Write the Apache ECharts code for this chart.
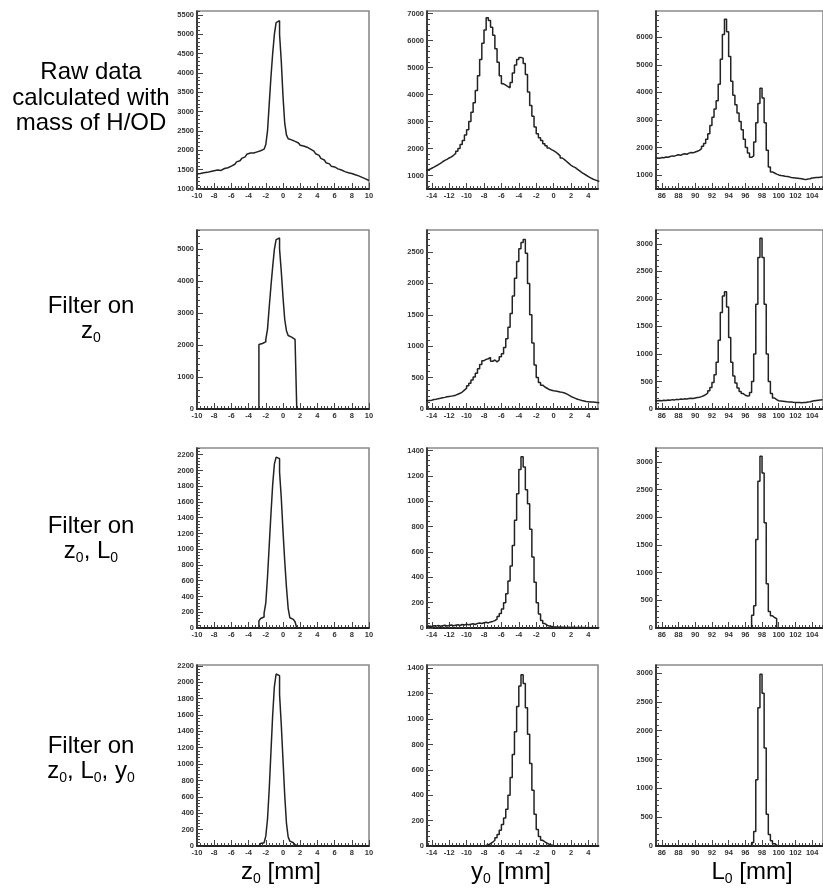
<!DOCTYPE html>
<html><head><meta charset="utf-8">
<script src="https://cdn.jsdelivr.net/npm/echarts@6/dist/echarts.min.js"></script>
<style>html,body{margin:0;padding:0;background:#fff}#c{width:823px;height:891px}</style>
</head><body><div id="c"></div>
<script>
// ---------- binning (histogram bin edges start + width) ----------
const Z_BINS = {start: -10, width: 0.2};
const Y_BINS = {start: -14.75, width: 0.25};
const L_BINS = {start: 85.25, width: 0.25};

// ---------- tick labels ----------
const zTickLabels = [-10,-8,-6,-4,-2,0,2,4,6,8,10];
const yTickLabels = [-14,-12,-10,-8,-6,-4,-2,0,2,4];
const lTickLabels = [86,88,90,92,94,96,98,100,102,104];
const cnt_z_raw = [1000,1500,2000,2500,3000,3500,4000,4500,5000,5500];
const cnt_y_raw = [1000,2000,3000,4000,5000,6000,7000];
const cnt_l_raw = [1000,2000,3000,4000,5000,6000];
const cnt_z_f1 = [0,1000,2000,3000,4000,5000];
const cnt_y_f1 = [0,500,1000,1500,2000,2500];
const cnt_l_f1 = [0,500,1000,1500,2000,2500,3000];
const cnt_z_f2 = [0,200,400,600,800,1000,1200,1400,1600,1800,2000,2200];
const cnt_y_f2 = [0,200,400,600,800,1000,1200,1400];
const cnt_l_f2 = [0,500,1000,1500,2000,2500,3000];
const cnt_z_f3 = [0,200,400,600,800,1000,1200,1400,1600,1800,2000,2200];
const cnt_y_f3 = [0,200,400,600,800,1000,1200,1400];
const cnt_l_f3 = [0,500,1000,1500,2000,2500,3000];

// ---------- histogram contents ----------
const z0Raw = [1390,1400,1380,1420,1410,1430,1420,1450,1440,1470,
 1460,1490,1500,1480,1510,1530,1520,1550,1570,1590,
 1620,1640,1670,1700,1730,1760,1790,1830,1860,1900,
 1930,1950,1930,1970,1960,1980,1990,2010,2030,2060,
 2150,2500,3200,3900,4500,5000,5300,5350,5000,4300,
 3400,2700,2400,2300,2270,2240,2230,2200,2190,2150,
 2130,2110,2090,2080,2050,2030,2010,1980,1950,1910,
 1870,1830,1790,1750,1710,1680,1650,1620,1590,1570,
 1540,1520,1500,1490,1470,1450,1440,1420,1410,1400,
 1390,1370,1360,1340,1320,1300,1280,1260,1240,1220];
const z0FiltZ = [0,0,0,0,0,0,0,0,0,0, 0,0,0,0,0,0,0,0,0,0, 0,0,0,0,0,0,0,0,0,0, 0,0,0,0,0,0,
 2020,2050,2060,2100,2180,2500,3200,3850,4450,5000,5300,5350,5000,4300,3500,2800,2450,2300,2250,2200,2180,2150,
 0,0,0,0,0,0,0,0,0,0, 0,0,0,0,0,0,0,0,0,0, 0,0,0,0,0,0,0,0,0,0, 0,0,0,0,0,0,0,0,0,0, 0,0];
const z0FiltZL = [0,0,0,0,0,0,0,0,0,0, 0,0,0,0,0,0,0,0,0,0, 0,0,0,0,0,0,0,0,0,0, 0,0,0,0,0,0,
 90,120,140,190,320,650,1050,1450,1820,2080,2170,2150,1980,1650,1230,850,520,250,130,110,100,80,
 0,0,0,0,0,0,0,0,0,0, 0,0,0,0,0,0,0,0,0,0, 0,0,0,0,0,0,0,0,0,0, 0,0,0,0,0,0,0,0,0,0, 0,0];
const z0FiltZLY = [0,0,0,0,0,0,0,0,0,0, 0,0,0,0,0,0,0,0,0,0, 0,0,0,0,0,0,0,0,0,0, 0,0,0,0,0,0,
 20,30,40,60,120,330,700,1150,1600,1950,2100,2080,1850,1480,1050,620,280,110,60,40,25,15,
 0,0,0,0,0,0,0,0,0,0, 0,0,0,0,0,0,0,0,0,0, 0,0,0,0,0,0,0,0,0,0, 0,0,0,0,0,0,0,0,0,0, 0,0];

const y0Raw = [1200,1230,1270,1310,1360,1400,1450,1510,1560,1600,
 1650,1690,1750,1820,1900,2000,2150,2300,2500,2700,
 3000,3350,3700,4150,4700,5300,5900,6400,6850,6750,
 6500,6200,5700,5200,4700,4400,4350,4300,4250,4450,
 4800,5100,5300,5380,5350,5150,4750,4100,3600,3200,
 2800,2550,2400,2300,2180,2100,2020,1960,1920,1870,
 1800,1730,1650,1590,1520,1450,1380,1330,1290,1230,
 1170,1110,1060,1010,960,910,870,840,810,780];
const y0FiltZ = [130,135,140,150,155,165,170,180,185,195,
 200,205,210,220,235,250,270,300,330,370,
 410,460,510,570,640,710,770,790,800,820,
 760,780,750,780,830,880,980,1120,1300,1520,
 1800,2080,2350,2550,2650,2700,2480,2000,1500,1050,
 700,500,420,380,350,330,310,300,290,285,
 280,270,265,255,240,220,200,185,170,155,
 145,135,128,120,116,112,110,108,105,100];
const y0FiltZL = [10,15,12,18,15,20,14,18,22,16,
 20,24,18,22,26,20,28,24,30,26,
 30,34,28,36,40,36,42,46,40,48,
 52,58,70,90,115,150,200,270,370,490,
 650,850,1060,1250,1350,1270,1090,980,780,560,
 360,200,110,60,35,22,15,12,9,8,
 6,7,5,6,4,5,4,5,3,4,
 3,4,3,2,3,2,3,2,2,2];
const y0FiltZLY = [0,0,0,0,0,0,0,0,0,0, 0,0,0,0,0,0,0,0,0,0, 0,0,0,0,0,0,0,
 5,10,18,30,45,65,90,125,170,220,290,400,540,720,900,1100,1260,1350,1280,1090,880,650,440,250,130,75,45,32,22,14,8,4,2,
 0,0,0,0,0,0,0,0,0,0, 0,0,0,0,0,0,0,0,0,0];

const L0Raw = [1620,1610,1640,1630,1660,1650,1680,1700,1690,1720,
 1740,1720,1760,1780,1760,1800,1820,1810,1840,1870,
 1900,1960,2050,2150,2300,2500,2800,3100,3400,3700,
 4300,5200,6100,6650,6200,5300,4400,3900,3550,3250,
 2950,2650,2300,2000,1800,1650,1700,2200,2900,3600,
 4150,3800,2900,1900,1300,1120,1080,1040,1010,990,
 980,960,950,940,920,910,900,890,880,870,
 850,840,860,870,900,910,920,920,930,940];
const L0FiltZ = [150,155,150,160,155,165,160,170,165,175,
 170,180,175,185,180,190,195,190,200,210,
 215,225,240,260,290,330,390,480,620,850,
 1250,1750,2050,2130,1850,1300,850,600,470,380,
 320,280,250,235,240,300,500,1000,1900,2750,
 3100,2750,1900,1000,500,280,200,170,150,145,
 140,135,130,128,125,122,120,118,120,115,
 118,120,125,130,140,150,155,160,165,170];
const L0FiltZL = [0,0,0,0,0,0,0,0,0,0, 0,0,0,0,0,0,0,0,0,0, 0,0,0,0,0,0,0,0,0,0, 0,0,0,0,0,0,0,0,0,0, 0,0,0,0,0,0,
 230,400,1600,2650,3100,2800,1900,800,300,220,190,170,
 0,0,0,0,0,0,0,0,0,0, 0,0,0,0,0,0,0,0,0,0, 0,0];
const L0FiltZLY = [0,0,0,0,0,0,0,0,0,0, 0,0,0,0,0,0,0,0,0,0, 0,0,0,0,0,0,0,0,0,0, 0,0,0,0,0,0,0,0,0,0, 0,0,0,0,0,0,
 60,250,1150,2400,2980,2650,1700,550,200,90,40,15,
 0,0,0,0,0,0,0,0,0,0, 0,0,0,0,0,0,0,0,0,0, 0,0];

// ---------- layout ----------
const FONT = 'Liberation Sans';
const colLeft = [197, 427, 656], colWidth = [172, 171, 172];
const rowTop = [11, 230, 448, 665], rowHeight = [178, 179, 180, 181];
const xRanges = [[-10, 10], [-14.55, 5.1], [85.3, 105.3]];
const xTicks = [zTickLabels, yTickLabels, lTickLabels];
const bins = [Z_BINS, Y_BINS, L_BINS];

const panels = [
  [{d: z0Raw, y: [1000, 5600], t: cnt_z_raw}, {d: y0Raw, y: [500, 7100], t: cnt_y_raw}, {d: L0Raw, y: [500, 6950], t: cnt_l_raw}],
  [{d: z0FiltZ, y: [0, 5600], t: cnt_z_f1}, {d: y0FiltZ, y: [0, 2850], t: cnt_y_f1}, {d: L0FiltZ, y: [0, 3250], t: cnt_l_f1}],
  [{d: z0FiltZL, y: [0, 2285], t: cnt_z_f2}, {d: y0FiltZL, y: [0, 1420], t: cnt_y_f2}, {d: L0FiltZL, y: [0, 3250], t: cnt_l_f2}],
  [{d: z0FiltZLY, y: [0, 2210], t: cnt_z_f3}, {d: y0FiltZLY, y: [0, 1426], t: cnt_y_f3}, {d: L0FiltZLY, y: [0, 3140], t: cnt_l_f3}]
];

function minorOf(ticks, min, max) {
  const step = (ticks[1] - ticks[0]) / 5;
  const out = [];
  const k0 = Math.ceil((min - ticks[0]) / step - 1e-9);
  for (let k = k0; ticks[0] + k * step <= max + 1e-9; k++) {
    if (k % 5 !== 0) out.push(+(ticks[0] + k * step).toFixed(6));
  }
  return out;
}
function histPoints(vals, b) {
  const pts = vals.map((v, i) => [b.start + i * b.width, v]);
  pts.push([b.start + vals.length * b.width, vals[vals.length - 1]]);
  return pts;
}

const grid = [], xAxis = [], yAxis = [], series = [];
const AX = '#222';
const lbl = {fontSize: 7.5, fontWeight: 'bold', color: '#333', fontFamily: FONT};
for (let r = 0; r < 4; r++) {
  for (let c = 0; c < 3; c++) {
    const g = grid.length;
    const p = panels[r][c];
    grid.push({left: colLeft[c], top: rowTop[r], width: colWidth[c], height: rowHeight[r],
      show: true, borderColor: '#8a8a8a', borderWidth: 1.6, backgroundColor: '#fff'});
    const [xmin, xmax] = xRanges[c];
    xAxis.push({gridIndex: g, type: 'value', min: xmin, max: xmax, position: 'bottom',
      axisLine: {show: true, onZero: false, lineStyle: {color: AX, width: 1.8}},
      axisTick: {show: true, inside: true, length: 6, customValues: xTicks[c], lineStyle: {color: '#444', width: 1}},
      axisLabel: Object.assign({show: true, customValues: xTicks[c], formatter: v => String(v), margin: 3}, lbl),
      splitLine: {show: false}});
    xAxis.push({gridIndex: g, type: 'value', min: xmin, max: xmax, position: 'bottom',
      axisLine: {show: false, onZero: false},
      axisTick: {show: true, inside: true, length: 3, customValues: minorOf(xTicks[c], xmin, xmax), lineStyle: {color: '#444', width: 1}},
      axisLabel: {show: false}, splitLine: {show: false}});
    yAxis.push({gridIndex: g, type: 'value', min: p.y[0], max: p.y[1], position: 'left',
      axisLine: {show: true, onZero: false, lineStyle: {color: AX, width: 1.6}},
      axisTick: {show: true, inside: true, length: 6, customValues: p.t, lineStyle: {color: '#444', width: 1}},
      axisLabel: Object.assign({show: true, customValues: p.t, formatter: v => String(v), margin: 3}, lbl),
      splitLine: {show: false}});
    yAxis.push({gridIndex: g, type: 'value', min: p.y[0], max: p.y[1], position: 'left',
      axisLine: {show: false, onZero: false},
      axisTick: {show: true, inside: true, length: 3, customValues: minorOf(p.t, p.y[0], p.y[1]), lineStyle: {color: '#444', width: 1}},
      axisLabel: {show: false}, splitLine: {show: false}});
    series.push({type: 'line', xAxisIndex: 2 * g, yAxisIndex: 2 * g, step: 'end',
      data: histPoints(p.d, bins[c]), showSymbol: false, symbol: 'none', clip: true,
      lineStyle: {color: '#222', width: 1.5}, z: 5, silent: true});
  }
}

function txt(x, y, text, size) {
  const sub = Math.round(size * 0.6);
  const rr = {t: {fontSize: size, fontFamily: FONT, lineHeight: size + 4},
              s: {fontSize: sub, fontFamily: FONT, lineHeight: sub - 2, verticalAlign: 'bottom'}};
  return {type: 'text', x: x, y: y, z: 100,
    style: {fontSize: size, fontFamily: FONT, fill: '#000', text: text, rich: rr, align: 'center', verticalAlign: 'middle'}};
}
const RL = 24, AT = 24;
const graphic = [
  txt(91, 72, '{t|Raw data}', RL),
  txt(91, 98, '{t|calculated with}', RL),
  txt(91, 123, '{t|mass of H/OD}', RL),
  txt(91, 306, '{t|Filter on}', RL),
  txt(91, 331, '{t|z}{s|0}', RL),
  txt(91, 526, '{t|Filter on}', RL),
  txt(91, 551, '{t|z}{s|0}{t|, L}{s|0}', RL),
  txt(91, 746, '{t|Filter on}', RL),
  txt(91, 771, '{t|z}{s|0}{t|, L}{s|0}{t|, y}{s|0}', RL),
  txt(281, 872, '{t|z}{s|0}{t| [mm]}', AT),
  txt(511, 872, '{t|y}{s|0}{t| [mm]}', AT),
  txt(752, 872, '{t|L}{s|0}{t| [mm]}', AT)
];

const chart = echarts.init(document.getElementById('c'), null, {renderer: 'canvas'});
chart.setOption({animation: false, backgroundColor: '#fff', grid, xAxis, yAxis, series, graphic});
</script></body></html>
